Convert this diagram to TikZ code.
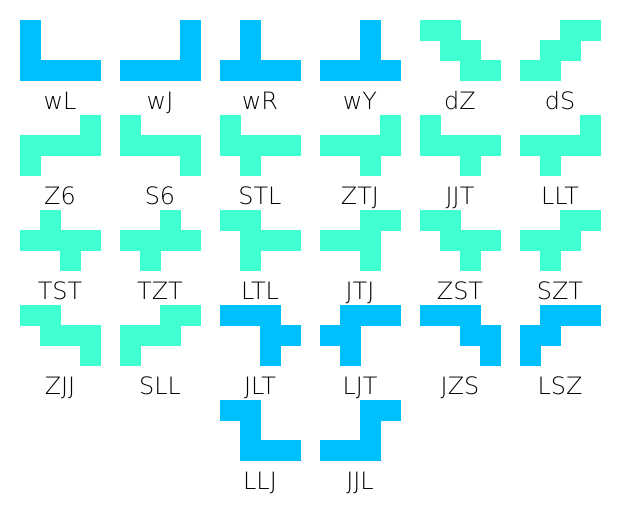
\documentclass[tikz,border=0pt]{standalone}
\usepackage{fontspec}
\setmainfont{DejaVu Sans ExtraLight}
\usepackage{tikz}

\definecolor{skyblk}{RGB}{0,191,255}
\definecolor{mintblk}{RGB}{64,255,208}

% one piece: name, x, y, colour, cells (col/row)
\newcommand{\piece}[5]{%
	\foreach \cx/\cy in {#5}
		\path[cell, fill=#4, draw=#4] (#2+\cx,#3+\cy) rectangle ++(1,1);
	\node[lbl] (#1) at (#2+2,#3+4.5) {#1};
}

\begin{document}
\begin{tikzpicture}[x=5mm, y=-5mm, cell/.style = {line width=0.3pt}, lbl/.style = {inner sep=0pt, anchor=base, font=\fontsize{17}{20}\selectfont}]
	\useasboundingbox (0,0) rectangle (31,26);
	% first row
	\piece{wL}{1}{1}{skyblk}{0/0,0/1,0/2,1/2,2/2,3/2}
	\piece{wJ}{6}{1}{skyblk}{3/0,3/1,0/2,1/2,2/2,3/2}
	\piece{wR}{11}{1}{skyblk}{1/0,1/1,0/2,1/2,2/2,3/2}
	\piece{wY}{16}{1}{skyblk}{2/0,2/1,0/2,1/2,2/2,3/2}
	\piece{dZ}{21}{1}{mintblk}{0/0,1/0,1/1,2/1,2/2,3/2}
	\piece{dS}{26}{1}{mintblk}{2/0,3/0,1/1,2/1,0/2,1/2}
	% second row
	\piece{Z6}{1}{5.75}{mintblk}{3/0,0/1,1/1,2/1,3/1,0/2}
	\piece{S6}{6}{5.75}{mintblk}{0/0,0/1,1/1,2/1,3/1,3/2}
	\piece{STL}{11}{5.75}{mintblk}{0/0,0/1,1/1,2/1,3/1,1/2}
	\piece{ZTJ}{16}{5.75}{mintblk}{3/0,0/1,1/1,2/1,3/1,2/2}
	\piece{JJT}{21}{5.75}{mintblk}{0/0,0/1,1/1,2/1,3/1,2/2}
	\piece{LLT}{26}{5.75}{mintblk}{3/0,0/1,1/1,2/1,3/1,1/2}
	% third row
	\piece{TST}{1}{10.5}{mintblk}{1/0,0/1,1/1,2/1,3/1,2/2}
	\piece{TZT}{6}{10.5}{mintblk}{2/0,0/1,1/1,2/1,3/1,1/2}
	\piece{LTL}{11}{10.5}{mintblk}{0/0,1/0,1/1,2/1,3/1,1/2}
	\piece{JTJ}{16}{10.5}{mintblk}{2/0,3/0,0/1,1/1,2/1,2/2}
	\piece{ZST}{21}{10.5}{mintblk}{0/0,1/0,1/1,2/1,3/1,2/2}
	\piece{SZT}{26}{10.5}{mintblk}{2/0,3/0,0/1,1/1,2/1,1/2}
	% fourth row
	\piece{ZJJ}{1}{15.25}{mintblk}{0/0,1/0,1/1,2/1,3/1,3/2}
	\piece{SLL}{6}{15.25}{mintblk}{2/0,3/0,0/1,1/1,2/1,0/2}
	\piece{JLT}{11}{15.25}{skyblk}{0/0,1/0,2/0,2/1,3/1,2/2}
	\piece{LJT}{16}{15.25}{skyblk}{1/0,2/0,3/0,0/1,1/1,1/2}
	\piece{JZS}{21}{15.25}{skyblk}{0/0,1/0,2/0,2/1,3/1,3/2}
	\piece{LSZ}{26}{15.25}{skyblk}{1/0,2/0,3/0,0/1,1/1,0/2}
	% last row
	\piece{LLJ}{11}{20}{skyblk}{0/0,1/0,1/1,1/2,2/2,3/2}
	\piece{JJL}{16}{20}{skyblk}{2/0,3/0,2/1,0/2,1/2,2/2}
\end{tikzpicture}
\end{document}
